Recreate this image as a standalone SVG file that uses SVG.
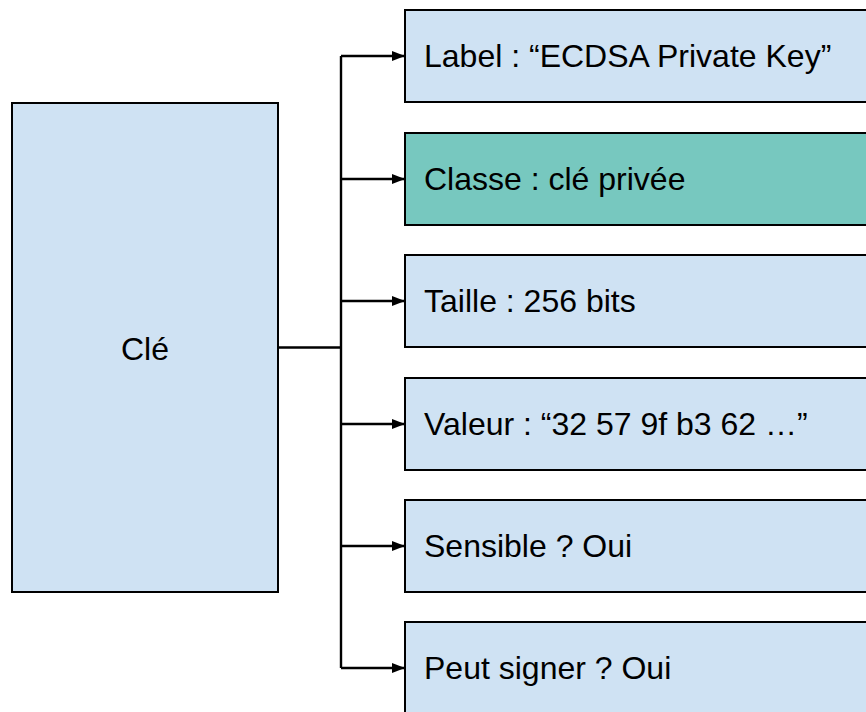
<svg xmlns="http://www.w3.org/2000/svg" width="866" height="712" viewBox="0 0 866 712">
  <style>
    .box { fill: #cfe2f3; stroke: #000; stroke-width: 2; }
    .teal { fill: #77c8bf; }
    .lbl { font-family: "Liberation Sans", Arial, sans-serif; font-size: 32px; fill: #000; }
    .wire { fill: none; stroke: #000; stroke-width: 2.4; }
  </style>
  <defs>
    <marker id="arrow" viewBox="0 0 13 10" refX="13" refY="5" markerWidth="13" markerHeight="10" markerUnits="userSpaceOnUse" orient="auto">
      <path d="M0,0 L13,5 L0,10 Z" fill="#000"/>
    </marker>
  </defs>
  <rect width="866" height="712" fill="#fff"/>

  <g id="connectors">
    <path class="wire" d="M278,347.5 H341"/>
    <path class="wire" d="M341,56 V668"/>
    <path class="wire" d="M341,56 H405" marker-end="url(#arrow)"/>
    <path class="wire" d="M341,179 H405" marker-end="url(#arrow)"/>
    <path class="wire" d="M341,301 H405" marker-end="url(#arrow)"/>
    <path class="wire" d="M341,424 H405" marker-end="url(#arrow)"/>
    <path class="wire" d="M341,546 H405" marker-end="url(#arrow)"/>
    <path class="wire" d="M341,668 H405" marker-end="url(#arrow)"/>
  </g>

  <g id="key">
    <rect class="box" x="12" y="103" width="266" height="489"/>
    <text class="lbl" x="145" y="360" text-anchor="middle">Clé</text>
  </g>

  <g id="label">
    <rect class="box" x="405" y="10" width="480" height="92"/>
    <text class="lbl" x="424" y="67">Label : “ECDSA Private Key”</text>
  </g>

  <g id="class">
    <rect class="box teal" x="405" y="133" width="480" height="92"/>
    <text class="lbl" x="424" y="190">Classe : clé privée</text>
  </g>

  <g id="size">
    <rect class="box" x="405" y="255" width="480" height="92"/>
    <text class="lbl" x="424" y="312">Taille : 256 bits</text>
  </g>

  <g id="value">
    <rect class="box" x="405" y="378" width="480" height="92"/>
    <text class="lbl" x="424" y="435">Valeur : “32 57 9f b3 62 …”</text>
  </g>

  <g id="sensitive">
    <rect class="box" x="405" y="500" width="480" height="92"/>
    <text class="lbl" x="424" y="557">Sensible ? Oui</text>
  </g>

  <g id="sign">
    <rect class="box" x="405" y="622" width="480" height="92"/>
    <text class="lbl" x="424" y="679">Peut signer ? Oui</text>
  </g>
</svg>
